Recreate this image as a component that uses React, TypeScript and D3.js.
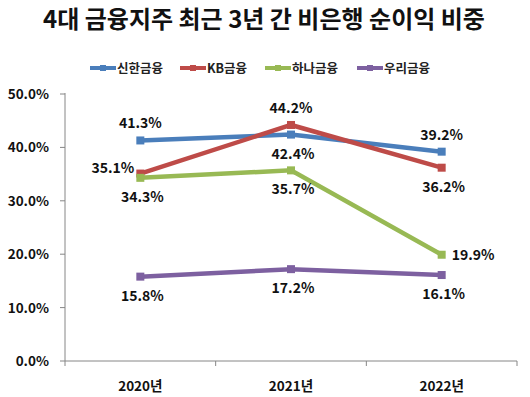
import React from 'react'
import * as d3 from 'd3'

const years = ['2020년', '2021년', '2022년']
const seriesNames = ['신한금융', 'KB금융', '하나금융', '우리금융']
const colors = ['#4a7ebb', '#be4b48', '#98b954', '#7d60a0']
const shinhan = [41.3, 42.4, 39.2]
const kb = [35.1, 44.2, 36.2]
const hana = [34.3, 35.7, 19.9]
const woori = [15.8, 17.2, 16.1]
const yTicks = [0, 10, 20, 30, 40, 50]
// label placement per point: t = above, b = below, l = left, r = right
const labelPos = [
  ['t', 'b', 't'],
  ['l', 't', 'b'],
  ['b', 'b', 'r'],
  ['b', 'b', 'b'],
]

const font = '"Noto Sans CJK KR", "Noto Sans", sans-serif'

export default function App() {
  const width = 530
  const height = 397
  const left = 65
  const right = 517
  const top = 94
  const bottom = 361

  const x = d3.scaleBand().domain(years).range([left, right])
  const y = d3.scaleLinear().domain([0, 50]).range([bottom, top])
  const cx = (d: string) => (x(d) as number) + x.bandwidth() / 2

  const all = [shinhan, kb, hana, woori]
  const line = d3.line<number>()
    .x((d, i) => cx(years[i]))
    .y((d) => y(d))

  const labelXY = (pos: string, px: number, py: number) => {
    if (pos === 't') return { x: px, y: py - 12, anchor: 'middle' }
    if (pos === 'b') return { x: px + 2, y: py + 24, anchor: 'middle' }
    if (pos === 'l') return { x: px - 6, y: py - 1, anchor: 'end' }
    return { x: px + 10, y: py + 5, anchor: 'start' }
  }

  const legendX = [90, 180, 265, 357]

  return (
    <svg width={width} height={height} style={{ position: 'absolute', left: 0, top: 0 }}>
      <rect width={width} height={height} fill="#fff" />
      <text x={264} y={28} textAnchor="middle" fontFamily={font} fontWeight="bold" fontSize={24} fill="#111">
        4대 금융지주 최근 3년 간 비은행 순이익 비중
      </text>

      {seriesNames.map((s, i) => (
        <g key={s}>
          <line x1={legendX[i]} x2={legendX[i] + 26} y1={68} y2={68} stroke={colors[i]} strokeWidth={4} />
          <rect x={legendX[i] + 10} y={65} width={6} height={6} fill={colors[i]} />
          <text x={legendX[i] + 27} y={73} fontFamily={font} fontSize={12.5} fontWeight="bold" fill="#222">{s}</text>
        </g>
      ))}

      <line x1={left} x2={left} y1={top - 1} y2={bottom} stroke="#868686" />
      <line x1={left} x2={right} y1={bottom} y2={bottom} stroke="#868686" />
      {yTicks.map((t) => (
        <g key={t}>
          <line x1={left - 5} x2={left} y1={y(t)} y2={y(t)} stroke="#868686" />
          <text x={49} y={y(t) + 5} textAnchor="end" fontFamily={font} fontWeight="bold" fontSize={13.5} fill="#111">
            {t.toFixed(1)}%
          </text>
        </g>
      ))}
      {[...years.map((d) => x(d) as number), right].map((v, i) => (
        <line key={i} x1={v} x2={v} y1={bottom} y2={bottom + 5} stroke="#868686" />
      ))}
      {years.map((d) => (
        <text key={d} x={cx(d)} y={391} textAnchor="middle" fontFamily={font} fontWeight="bold" fontSize={13.5} fill="#111">
          {d}
        </text>
      ))}

      {all.map((vals, si) => (
        <g key={si}>
          <path d={line(vals) as string} fill="none" stroke={colors[si]} strokeWidth={4.5} />
          {vals.map((v, i) => (
            <rect key={i} x={cx(years[i]) - 4} y={y(v) - 4} width={8} height={8} fill={colors[si]} />
          ))}
        </g>
      ))}

      {all.map((vals, si) =>
        vals.map((v, i) => {
          const p = labelXY(labelPos[si][i], cx(years[i]), y(v))
          return (
            <text key={si + '-' + i} x={p.x} y={p.y} textAnchor={p.anchor as any} fontFamily={font} fontWeight="bold" fontSize={14} fill="#111">
              {v.toFixed(1)}%
            </text>
          )
        })
      )}
    </svg>
  )
}
